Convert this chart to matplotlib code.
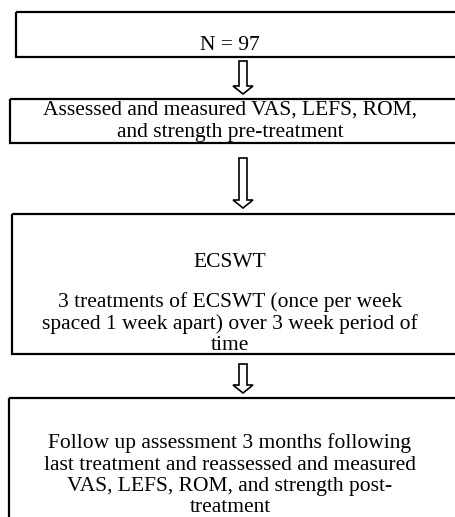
import matplotlib.pyplot as plt
from matplotlib.patches import Rectangle, Polygon

# flowchart steps, top to bottom
steps = [
    ["N = 97"],
    ["Assessed and measured VAS, LEFS, ROM,", "and strength pre-treatment"],
    ["ECSWT", "", "3 treatments of ECSWT (once per week",
     "spaced 1 week apart) over 3 week period of", "time"],
    ["Follow up assessment 3 months following",
     "last treatment and reassessed and measured",
     "VAS, LEFS, ROM, and strength post-", "treatment"],
]

# layout in pixels (left, top, bottom); boxes run off the right edge
box_left = [16, 10, 12, 9]
box_top = [12, 99, 214, 398]
box_bottom = [57, 143, 354, 530]
baseline0 = [50, 115, 267, 448]   # baseline of first line
line_gap = 21.5
blank_gap = 18.5
text_x = 230
arrow_top = [61, 158, 364]
arrow_tip = [94, 208, 393]
arrow_x = 243

W, H = 455, 517
fig = plt.figure(figsize=(W / 100, H / 100), dpi=100)
ax = fig.add_axes([0, 0, 1, 1])
ax.set_xlim(0, W)
ax.set_ylim(H, 0)
ax.axis("off")

font = dict(family="Liberation Serif", size=15.5, color="black",
            ha="center", va="baseline")

for i, lines in enumerate(steps):
    ax.add_patch(Rectangle((box_left[i], box_top[i]), 600, box_bottom[i] - box_top[i],
                           fill=False, lw=1.6, ec="black"))
    y = baseline0[i]
    for ln in lines:
        if ln == "":
            y += blank_gap
            continue
        ax.text(text_x, y, ln, **font)
        y += line_gap

# hollow down arrows between boxes
for t, b in zip(arrow_top, arrow_tip):
    sw, hw, hl = 4, 10, 8
    pts = [(arrow_x - sw, t), (arrow_x + sw, t), (arrow_x + sw, b - hl),
           (arrow_x + hw, b - hl), (arrow_x, b), (arrow_x - hw, b - hl),
           (arrow_x - sw, b - hl)]
    ax.add_patch(Polygon(pts, closed=True, fill=False, lw=1.2, ec="black"))

fig.savefig("out.png", dpi=100, facecolor="white")
